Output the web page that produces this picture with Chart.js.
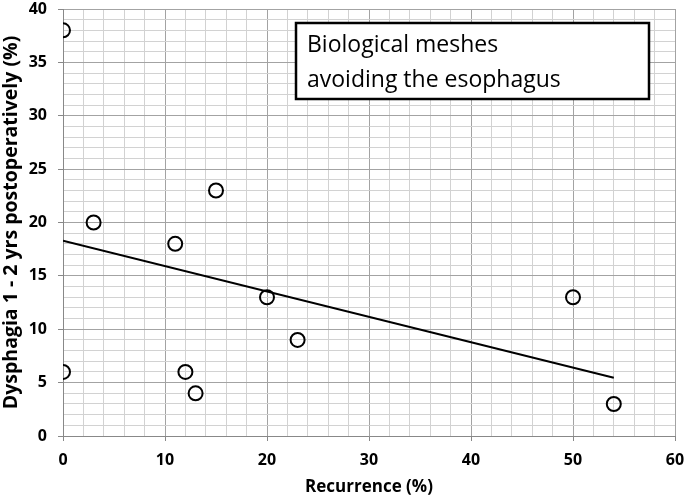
<!DOCTYPE html>
<html lang="en">
<head>
  <meta charset="UTF-8" />
  <title>Dysphagia vs Recurrence</title>
  <script src="https://cdn.jsdelivr.net/npm/chart.js"></script>
  <style>
    html, body { margin: 0; padding: 0; background: #fff; }
    .wrap { width: 686px; height: 501px; }
  </style>
</head>
<body>
  <div class="wrap"><canvas id="chart"></canvas></div>
  <script>
    // Study points: recurrence (%) vs dysphagia 1-2 yrs (%)
    const recurrence = [0, 0, 3, 11, 12, 13, 15, 20, 23, 50, 54];
    const dysphagia  = [38, 6, 20, 18, 6, 4, 23, 13, 9, 13, 3];

    // linear trend line, endpoints
    const trendX = [0, 54];
    const trendY = [18.3, 5.45];

    const boxLines = ['Biological meshes', 'avoiding the esophagus'];

    const FONT = '"Open Sans", sans-serif';

    const textBox = {
      id: 'textBox',
      afterDatasetsDraw(chart) {
        const ctx = chart.ctx;
        ctx.save();
        ctx.fillStyle = '#fff';
        ctx.fillRect(296, 23, 353, 76);
        ctx.strokeStyle = '#000';
        ctx.lineWidth = 2.5;
        ctx.strokeRect(296, 23, 353, 76);
        ctx.fillStyle = '#000';
        ctx.font = '23px ' + FONT;
        ctx.textBaseline = 'middle';
        ctx.fillText(boxLines[0], 307, 45);
        ctx.fillText(boxLines[1], 307, 80);
        ctx.restore();
      }
    };

    const gridColor = (major) => (ctx) =>
      (ctx.tick && ctx.tick.value % major === 0) ? '#a3a3a3' : '#d2d2d2';
    const tickColor = (major) => (ctx) =>
      (ctx.tick && ctx.tick.value % major === 0) ? '#888' : 'rgba(0,0,0,0)';

    new Chart(document.getElementById('chart'), {
      type: 'scatter',
      data: {
        datasets: [
          {
            label: 'Studies',
            data: recurrence.map((x, i) => ({ x: x, y: dysphagia[i] })),
            pointStyle: 'circle',
            pointRadius: 7,
            pointBorderWidth: 2,
            pointBorderColor: '#000',
            pointBackgroundColor: 'rgba(255,255,255,0)'
          },
          {
            label: 'Trend',
            data: trendX.map((x, i) => ({ x: x, y: trendY[i] })),
            showLine: true,
            borderColor: '#000',
            borderWidth: 2,
            pointRadius: 0
          }
        ]
      },
      options: {
        responsive: true,
        maintainAspectRatio: false,
        animation: false,
        layout: { autoPadding: false, padding: { left: 0, right: 11, top: 9, bottom: 0 } },
        plugins: {
          legend: { display: false },
          tooltip: { enabled: false }
        },
        scales: {
          x: {
            min: 0, max: 60,
            afterFit: (s) => { s.height = 65; s.paddingLeft = 0; s.paddingRight = 0; },
            border: { color: '#888', width: 1 },
            grid: { color: gridColor(10), tickColor: tickColor(10), tickLength: 5 },
            ticks: {
              stepSize: 2, autoSkip: false, maxRotation: 0, padding: 10,
              color: '#000', font: { family: FONT, size: 16, weight: 'bold' },
              callback: (v) => v % 10 === 0 ? v : ''
            },
            title: {
              display: true, text: 'Recurrence (%)', color: '#000',
              font: { family: FONT, size: 17, weight: 'bold' },
              padding: { top: 0, bottom: 4 }
            }
          },
          y: {
            min: 0, max: 40,
            afterFit: (s) => { s.width = 63; s.paddingTop = 0; s.paddingBottom = 0; },
            border: { color: '#888', width: 1 },
            grid: { color: gridColor(5), tickColor: tickColor(5), tickLength: 5 },
            ticks: {
              stepSize: 1, autoSkip: false, padding: 11,
              color: '#000', font: { family: FONT, size: 16, weight: 'bold' },
              callback: (v) => v % 5 === 0 ? v : ''
            },
            title: {
              display: true, text: 'Dysphagia 1 - 2 yrs postoperatively (%)', color: '#000',
              font: { family: FONT, size: 19.5, weight: 'bold' },
              padding: { top: 0, bottom: 0 }
            }
          }
        }
      },
      plugins: [textBox]
    });
  </script>
</body>
</html>
